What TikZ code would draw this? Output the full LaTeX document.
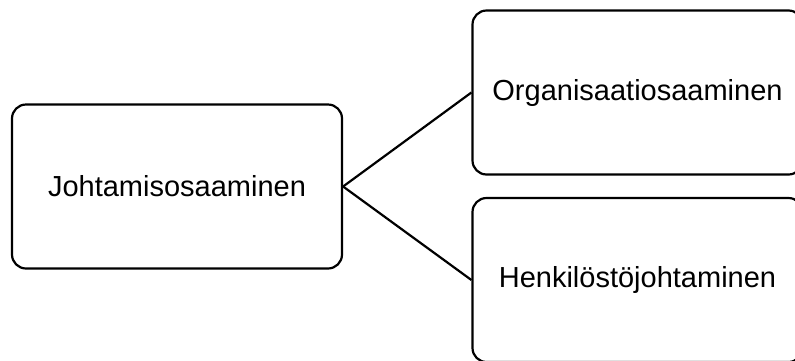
\documentclass[tikz,border=0pt]{standalone}
\usepackage{fontspec}
\setmainfont{Liberation Sans}
\begin{document}
\begin{tikzpicture}[x=1pt,y=-1pt,
  box/.style={draw=black,line width=2.2pt,rounded corners=14pt,
    minimum width=330pt,minimum height=164pt,inner sep=0pt,
    font=\fontsize{29}{34}\selectfont},
  link/.style={draw=black,line width=2.2pt}]
\useasboundingbox (0,0) rectangle (795,360);
\node[box] (johto) at (177,186.5) {Johtamisosaaminen};
\node[box] (org) at (637.5,92.5) {Organisaatiosaaminen};
\node[box] (henk) at (637.5,280) {Henkilöstöjohtaminen};
\draw[link] (johto.east) -- (org.west);
\draw[link] (johto.east) -- (henk.west);
\end{tikzpicture}
\end{document}
